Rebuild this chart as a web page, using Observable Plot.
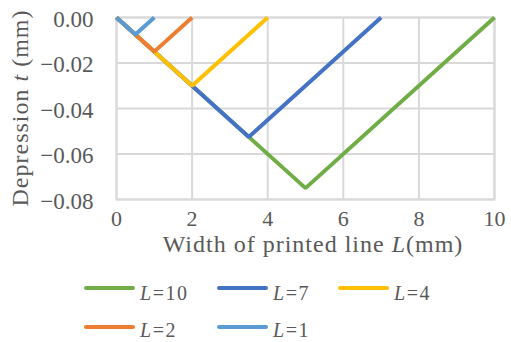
<!DOCTYPE html>
<html><head><meta charset="utf-8">
<script src="https://cdn.jsdelivr.net/npm/d3@7"></script>
<script src="https://cdn.jsdelivr.net/npm/@observablehq/plot@0.6"></script>
<style>
body{margin:0;background:#fff;}
#wrap{width:511px;font-family:"Liberation Serif","DejaVu Serif",serif;color:#595959;}
svg{display:block;}
</style></head>
<body><div id="wrap"></div>
<script>
const seriesNames = ["L=10","L=7","L=4","L=2","L=1"];
const seriesColors = ["#70AD47","#4472C4","#FFC000","#ED7D31","#5B9BD5"];
const xL10 = [0,5,10],  yL10 = [0,-0.075,0];
const xL7  = [0,3.5,7], yL7  = [0,-0.0525,0];
const xL4  = [0,2,4],   yL4  = [0,-0.03,0];
const xL2  = [0,1,2],   yL2  = [0,-0.015,0];
const xL1  = [0,0.5,1], yL1  = [0,-0.0075,0];
const xTicks = [0,2,4,6,8,10];
const yTicks = [0,-0.02,-0.04,-0.06,-0.08];

const xs = [xL10,xL7,xL4,xL2,xL1], ys = [yL10,yL7,yL4,yL2,yL1];
const data = [];
seriesNames.forEach((n,i)=>xs[i].forEach((x,j)=>data.push({s:n,x,y:ys[i][j]})));

const grid = "#d9d9d9";
const FONT = "Liberation Serif, DejaVu Serif, serif";
const W=511,H=268;
const plot = Plot.plot({
  width:W,height:H,
  marginLeft:116,marginRight:17,marginTop:17,marginBottom:H-199,
  style:{fontFamily:FONT,fontSize:"23px",color:"#595959",background:"#fff"},
  x:{domain:[0,10],ticks:xTicks,label:null},
  y:{domain:[-0.08,0],ticks:yTicks,label:null},
  color:{domain:seriesNames,range:seriesColors},
  marks:[
    Plot.gridX(xTicks,{stroke:grid,strokeOpacity:1,strokeWidth:2}),
    Plot.gridY(yTicks,{stroke:grid,strokeOpacity:1,strokeWidth:2}),
    Plot.frame({stroke:grid,strokeWidth:2}),
    Plot.axisX(xTicks,{tickSize:0,tickPadding:11,fill:"#595959",fontSize:22}),
    Plot.axisY(yTicks,{tickSize:0,tickPadding:23,dy:2,fill:"#595959",fontSize:23,tickFormat:d=>d3.format(".2f")(d)}),
    Plot.line(data,{x:"x",y:"y",z:"s",stroke:"s",strokeWidth:4,strokeLinecap:"butt",strokeLinejoin:"miter"})
  ]
});
const wrap = document.getElementById("wrap");
wrap.appendChild(plot);
const svg = d3.select(plot);
const xt = svg.append("text").attr("x",313).attr("y",252).attr("text-anchor","middle")
  .attr("fill","#595959").style("font-size","24px").style("letter-spacing","1px");
xt.append("tspan").text("Width of printed line ");
xt.append("tspan").attr("font-style","italic").text("L");
xt.append("tspan").text("(mm)");
const yt = svg.append("text").attr("transform","translate(28,108) rotate(-90)").attr("text-anchor","middle")
  .attr("fill","#595959").style("font-size","24px").style("letter-spacing","1px");
yt.append("tspan").text("Depression ");
yt.append("tspan").attr("font-style","italic").text("t");
yt.append("tspan").text(" (mm)");

// legend below the chart
const LH = 342-H;
const leg = d3.select(wrap).append("svg").attr("width",W).attr("height",LH)
  .style("font-family",FONT).style("font-size","20px");
const pos = [[84,288,300],[217,288,300],[338,288,300],[84,327,337],[217,327,337]];
seriesNames.forEach((n,i)=>{
  const [x,cy,by] = pos[i];
  leg.append("line").attr("x1",x+2).attr("x2",x+49).attr("y1",cy-H).attr("y2",cy-H)
    .attr("stroke",seriesColors[i]).attr("stroke-width",4).attr("stroke-linecap","round");
  const [a,b] = n.split("=");
  const t = leg.append("text").attr("x",x+56).attr("y",by-H).attr("fill","#595959").style("letter-spacing","1.5px");
  t.append("tspan").attr("font-style","italic").text(a);
  t.append("tspan").text("="+b);
});
</script></body></html>
